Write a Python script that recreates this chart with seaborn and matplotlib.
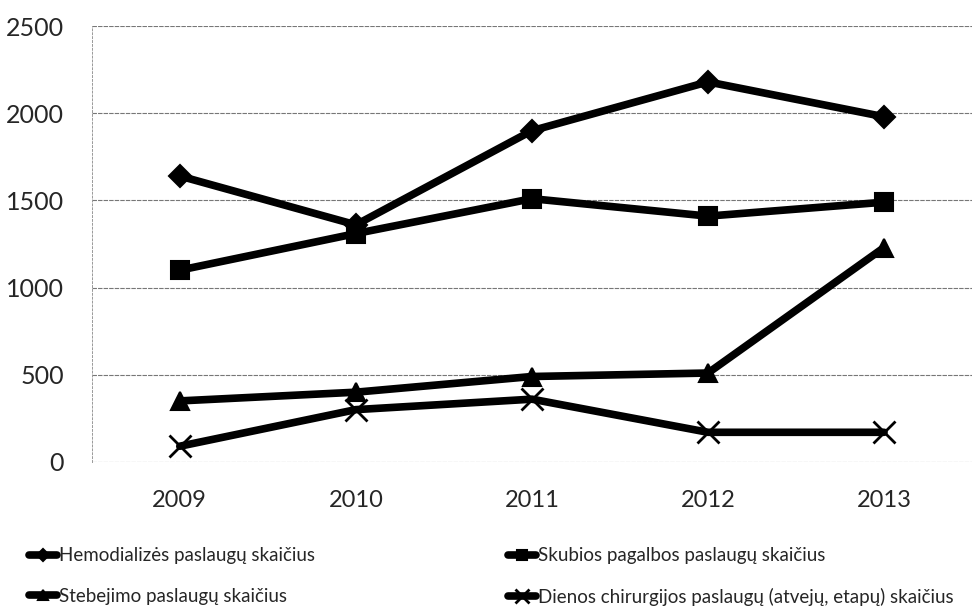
"""Line chart of service counts per year (2009-2013)."""

import matplotlib

matplotlib.use("Agg")
import matplotlib.pyplot as plt
import pandas as pd
import seaborn as sns

# Data
years = ["2009", "2010", "2011", "2012", "2013"]
hemodializes = [1640, 1360, 1900, 2180, 1980]
skubios = [1100, 1310, 1510, 1410, 1490]
stebejimo = [350, 400, 490, 510, 1230]
dienos = [90, 300, 360, 170, 170]

series_names = [
    "Hemodializės paslaugų skaičius",
    "Skubios pagalbos paslaugų skaičius",
    "Stebejimo paslaugų skaičius",
    "Dienos chirurgijos paslaugų (atvejų, etapų) skaičius",
]
series_values = [hemodializes, skubios, stebejimo, dienos]
markers = ["D", "s", "^", "x"]
marker_sizes = [11, 13, 13, 16]

# Long-form table
rows = []
for name, vals in zip(series_names, series_values):
    for i, v in enumerate(vals):
        rows.append({"pos": i, "year": years[i], "value": v, "series": name})
df = pd.DataFrame(rows)

sns.set_style("white")
plt.rcParams["font.family"] = ["Lato", "DejaVu Sans"]

fig = plt.figure(figsize=(9.76, 6.07), dpi=100)
ax = fig.add_axes([0.094, 0.239, 0.902, 0.718])

for name, mk, ms in zip(series_names, markers, marker_sizes):
    sub = df[df["series"] == name]
    sns.lineplot(
        data=sub,
        x="pos",
        y="value",
        color="black",
        linewidth=5.5,
        marker=mk,
        markersize=ms,
        markeredgecolor="black",
        markeredgewidth=1.5 if mk != "x" else 2,
        ax=ax,
        label=name,
    )

ax.set_xlim(-0.5, 4.5)
ax.set_ylim(0, 2500)
ax.set_yticks([0, 500, 1000, 1500, 2000, 2500])
ax.set_xticks(range(len(years)))
ax.set_xticklabels(years)
ax.set_xlabel("")
ax.set_ylabel("")
ax.tick_params(axis="y", labelsize=18, pad=20, length=0)
ax.tick_params(axis="x", labelsize=17, pad=20, length=0)

ax.grid(axis="y", color="#777777", linewidth=0.8, linestyle=(0, (4, 1)))
ax.set_axisbelow(True)
for side in ["top", "right", "bottom"]:
    ax.spines[side].set_visible(False)
ax.spines["left"].set_color("#999999")
ax.spines["left"].set_linewidth(0.7)
ax.spines["left"].set_linestyle((0, (2, 2)))

# Legend below the plot, two columns
h, lab = ax.get_legend_handles_labels()
ax.get_legend().remove()
order = [0, 2, 1, 3]
fig.legend(
    [h[i] for i in order],
    [lab[i] for i in order],
    loc="upper left",
    bbox_to_anchor=(0.012, 0.126),
    ncol=2,
    frameon=False,
    fontsize=13.5,
    handlelength=1.5,
    handletextpad=0.1,
    columnspacing=10.3,
    labelspacing=1.25,
    markerscale=0.6,
)

fig.savefig("out.png", dpi=100)
